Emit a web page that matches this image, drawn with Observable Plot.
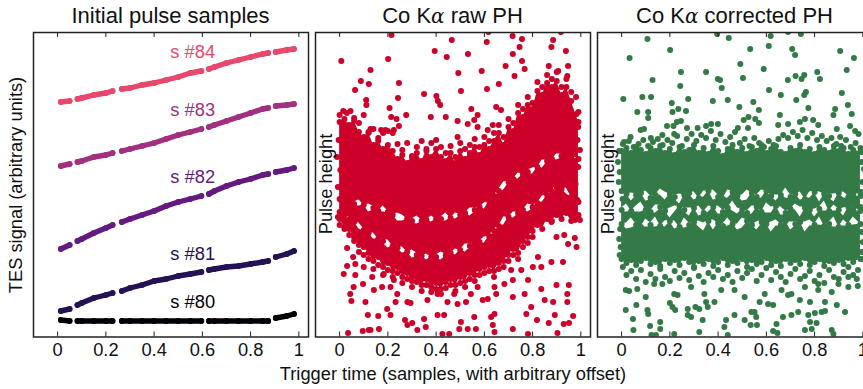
<!DOCTYPE html>
<html><head><meta charset="utf-8">
<script src="https://cdn.jsdelivr.net/npm/d3@7"></script>
<script src="https://cdn.jsdelivr.net/npm/@observablehq/plot@0.6"></script>
<style>
html,body{margin:0;padding:0;background:#fff;width:863px;height:389px;overflow:hidden;font-family:"Liberation Sans",Arial,sans-serif}
.p{position:absolute;top:0}
.t{position:absolute;top:3px;font-size:22px;line-height:26px;text-align:center;color:#111;white-space:nowrap}
.t i{font-family:"DejaVu Serif",serif;font-size:20px}
</style></head><body>
<div id="root"></div>
<script>
const xTicks=[0,.2,.4,.6,.8,1];
const sampleNames=["s #80","s #81","s #82","s #83","s #84"];
const sampleColors=["#000004","#251255","#641a80","#a3307e","#e8486c"];
const sampleLabelY=[35,83,160,227,285];
const sampleX=[.013,.05,.06,.082,.1,.15,.2,.228,.24,.266,.3,.35,.4,.45,.5,.55,.596,.61,.627,.65,.7,.75,.8,.85,.873,.89,.904,.95,.98];
const s84=[235,236,null,238,239,242,244,246,null,248,249,252,254,257,260,264,266,null,268,270,274,277,280,283,284,null,285,287,288];
const s83=[171,173,null,175,176,180,182,184,null,186,188,191,194,198,202,205,208,null,210,212,216,220,224,228,229,null,231,232,233];
const s82=[88,92,null,96,98,104,109,112,null,115,118,122,126,131,135,138,141,null,143,146,151,155,158,162,163,null,165,167,169];
const s81=[26,28,null,32,34,39,42,44,null,46,49,52,56,58,61,63,65,null,67,68,70,71,73,75,76,null,80,83,86];
const s80=[17,16,null,16,16,16,16,16,null,16,16,16,16,16,16,16,16,null,16,16,16,16,16,16,16,null,19,21,23];

const knotX=[0,.02,.04,.06,.08,.1,.12,.14,.16,.18,.2,.22,.24,.26,.28,.3,.32,.34,.36,.38,.4,.42,.44,.46,.48,.5,.52,.54,.56,.58,.6,.62,.64,.66,.68,.7,.72,.74,.76,.78,.8,.82,.84,.86,.88,.9,.92,.94,.96,.99];
const rawTop=[215,218,212,216,205,200,204,192,196,188,192,186,178,182,174,180,184,176,186,180,188,180,176,184,174,186,178,184,190,182,192,188,196,204,192,210,206,224,220,232,228,246,242,254,250,256,242,250,236,215];
const rawBottom=[118,110,108,100,92,90,84,76,80,70,74,66,70,60,64,56,60,52,58,50,54,48,55,58,52,60,56,64,62,68,70,72,66,74,76,82,88,84,96,100,106,112,108,118,116,122,118,124,116,122];
const rawSeam1=[138,138,134,133,134,132,129,129,126,128,125,122,120,119,118,116,117,116,117,118,118,118,120,119,121,122,124,125,127,130,131,136,141,146,151,155,158,161,163,165,166,170,173,176,178,180,181,180,180,178];
const rawOpen1=[0,1,0,2,3,0,4,2,0,3,1,0,4,3,0,2,4,1,0,3,0,2,4,0,3,1,0,4,2,0,3,0,0,2,4,1,0,3,0,2,3,0,4,1,0,3,2,0,1,0];
const rawSeam2=[125,122,118,115,111,107,104,101,98,96,93,91,89,87,85,83,82,81,80,80,80,81,82,84,85,87,89,91,93,95,97,101,106,111,116,120,122,124,127,129,130,134,138,142,146,150,148,146,140,135];
const rawOpen2=[0,0,2,0,3,1,0,3,0,2,4,0,1,3,0,4,2,0,3,0,2,4,1,0,3,0,4,2,0,1,3,0,2,0,4,0,3,1,0,4,2,0,3,0,1,2,0,3,0,0];

const rawTopX=[0,.015,.03,.045,.06,.08,.1,.12,.14,.16,.18,.2,.22,.24,.26,.28,.3,.32,.34,.36,.38,.4,.42,.44,.46,.48,.5,.52,.54,.56,.58,.6,.62,.64,.66,.68,.7,.72,.74,.76,.78,.8,.82,.84,.86,.88,.9,.92,.94,.96,.98,.99];
const rawTopY=[222,226,224,226,219,214,222,205,208,199,204,206,204,193,187,194,181,190,196,188,194,197,190,184,191,180,194,188,192,198,190,200,196,204,212,200,218,214,232,228,240,234,255,250,262,258,265,250,258,245,240,225];
const rawBottomX=[.02,.04,.06,.08,.1,.12,.14,.16,.18,.2,.22,.24,.26,.28,.3,.32,.34,.36,.38,.4,.42,.44,.46,.48,.5,.52,.54,.56,.58,.6,.62,.64,.66,.68,.7,.72,.74,.76,.78,.8];
const rawBottomY=[108,102,96,85,82,78,68,72,62,67,60,64,54,58,50,55,46,52,45,48,43,49,52,46,54,50,58,56,62,64,66,60,68,70,76,82,78,90,94,100];
const rawSides=[[-.004,197],[-.011,180],[.003,167],[-.007,150],[.006,137],[-.007,120],[0,112],[.996,187],[.986,197],[.989,210],[.982,223],[.989,170],[.978,153],[.985,137],[.989,120],[.975,117],[.996,117]];
const rawHigh=[[.215,302],[.617,305],[.465,297],[.61,295],[.717,301],[.756,298],[.917,305],[.885,297],[.878,290],[.938,286],[.746,290],[.718,283],[.756,276],[.394,286],[.444,280],[.532,283],[.201,278],[.007,276],[.128,267],[.492,264],[.589,266],[.688,271],[.725,261],[.767,268],[.867,271],[.906,266],[.947,271],[.944,261],[.246,254],[.088,256],[.121,253],[.064,247],[.66,253],[.611,248],[.503,246],[.35,243],[.401,241],[.242,239],[.407,236],[.417,232],[.11,237],[.111,232],[.207,229],[.546,228],[.572,222],[.276,222],[.214,220],[.236,218],[.378,220],[.44,220],[.489,216],[.558,217],[.531,213],[.649,230],[.669,227],[.246,211],[.225,207],[.172,207],[.19,207],[.128,208],[.489,200],[.572,210],[.635,212],[.614,207]];
const rawLow=[[.035,4],[.096,6],[.121,7],[.163,8],[.128,7],[.271,17],[.281,12],[.301,14],[.322,7],[.35,18],[.357,10],[.406,22],[.426,3],[.454,3],[.503,15],[.496,8],[.531,8],[.558,20],[.565,8],[.628,20],[.635,12],[.642,5],[.718,8],[.781,3],[.774,23],[.818,17],[.794,30],[.867,14],[.892,22],[.929,13],[.968,21],[.903,4],[.951,14],[.944,35],[.944,43],[.95,52],[.899,52],[.85,37],[.885,35],[.836,48],[.781,57],[.822,80],[.836,70],[.878,75],[.926,75],[.975,99],[.982,90],[.947,93],[.931,102],[.878,115],[.899,100],[.031,89],[.056,80],[.031,71],[.065,73],[.017,63],[.065,62],[.058,50],[.097,53],[.044,43],[.049,36],[.107,35],[.117,22],[.16,21],[.197,28],[.211,22],[.232,35],[.281,35],[.294,34],[.447,35],[.489,33],[.524,35],[.593,37],[.642,23],[.649,43],[.614,38],[.718,40],[.767,43],[.711,67],[.753,67],[.801,70],[.433,22],[.406,43],[.364,37],[.475,43],[.544,43],[.572,50],[.642,50],[.683,53],[.718,57],[.239,43],[.142,47],[.176,50],[.211,50],[.1,70],[.135,60],[.183,63],[.225,57]];

const corrTop=[186,189,184,190,187,183,189,186,191,184,188,182,190,185,187,192,184,189,183,191,186,181,188,192,185,189,183,190,186,192,184,188,191,185,183,189,186,192,185,188,183,190,187,184,191,186,189,183,187,185];
const corrBottom=[78,74,77,72,76,79,73,75,71,78,74,77,72,79,75,70,76,73,78,71,75,79,72,76,74,78,70,77,73,75,79,72,76,71,78,74,77,73,79,72,75,78,71,76,74,77,73,79,75,78];
const corrSeam1=[141,143,140,142,144,141,139,142,145,141,143,140,138,142,144,141,139,143,146,142,140,138,143,145,141,139,142,144,140,143,146,141,139,142,144,140,143,141,138,142,145,140,143,141,139,144,142,140,143,141];
const corrSeam2=[127,129,126,128,130,127,125,128,130,126,124,128,131,127,125,129,126,124,128,130,127,125,129,131,126,128,124,127,130,125,129,127,131,126,124,128,130,125,129,127,124,128,131,126,129,127,125,130,128,126];
const corrSeam3=[113,111,114,112,110,114,112,115,111,113,116,112,110,114,112,115,113,110,116,112,114,111,115,113,110,114,116,112,111,115,113,110,114,112,116,111,113,115,110,114,112,116,111,113,115,110,114,112,116,113];
const corrOpen1=[3,0,4,1,0,5,2,0,3,4,0,2,5,0,1,4,0,3,0,5,2,0,4,1,0,3,5,0,2,4,0,1,3,0,5,2,0,4,0,3,1,5,0,2,4,0,3,1,0,2];
const corrOpen2=[2,4,0,3,5,0,1,4,2,0,5,3,0,2,4,0,5,1,3,0,4,2,0,5,3,0,2,4,1,0,5,3,0,4,2,0,3,5,1,0,4,2,5,0,3,1,4,0,2,0];
const corrOpen3=[0,3,5,1,0,4,2,5,0,3,1,4,0,5,2,0,3,4,1,5,0,2,4,0,3,5,1,0,4,2,0,5,3,1,0,4,2,0,5,3,1,4,0,2,5,0,3,1,4,0];
const corrTopX=[.005,.03,.05,.07,.09,.11,.13,.15,.17,.19,.21,.23,.25,.27,.29,.31,.33,.35,.37,.39,.41,.43,.45,.47,.49,.51,.53,.55,.57,.59,.61,.63,.65,.67,.69,.71,.73,.75,.77,.79,.81,.83,.85,.87,.89,.91,.93,.95,.97,.99];
const corrTopY=[193,196,190,193,197,191,195,198,192,197,194,201,191,198,203,196,202,199,206,197,203,195,200,205,194,198,191,199,194,190,196,192,198,202,199,205,201,207,199,204,197,201,196,199,193,191,197,190,194,189];
const corrBottomX=[.005,.02,.04,.06,.08,.1,.12,.14,.16,.18,.2,.22,.24,.26,.28,.3,.32,.34,.36,.38,.4,.42,.44,.46,.48,.5,.52,.54,.56,.58,.6,.62,.64,.66,.68,.7,.72,.74,.76,.78,.8,.82,.84,.86,.88,.9,.92,.94,.96,.98];
const corrBottomY=[70,62,66,58,67,55,63,58,68,60,56,66,59,64,57,69,61,55,64,60,67,58,62,55,66,59,64,68,56,62,69,57,65,60,55,63,68,58,61,66,56,62,54,67,60,58,65,70,62,67];
const corrSides=[[-.01,186],[-.015,175],[-.008,165],[-.012,155],[0,146],[.004,138],[-.006,108],[-.01,98],[-.004,90],[-.008,82],[1,185],[.995,175],[1.005,168],[.998,155],[.992,145],[.99,130],[.996,105],[1,95],[.995,85],[1,78]];
const corrHigh=[[.107,298],[.396,303],[.444,299],[.618,301],[.61,291],[.743,303],[.69,305],[.533,288],[.201,287],[.707,288],[.719,282],[.906,286],[.963,279],[.033,279],[.492,273],[.246,265],[.35,265],[.128,257],[.399,258],[.408,257],[.503,259],[.589,268],[.689,257],[.721,261],[.757,262],[.746,258],[.811,265],[.822,258],[.933,267],[.243,251],[.415,249],[.611,247],[.66,242],[.764,245],[.757,242],[.913,244],[.007,238],[.086,240],[.122,240],[.276,238],[.208,234],[.378,236],[.44,237],[.546,235],[.724,237],[.938,232],[.488,230],[.569,227],[.211,225],[.235,228],[.267,226],[.065,225],[.11,225],[.11,219],[.774,229],[.885,228],[.878,222],[.954,223],[.656,222],[.526,220],[.506,217],[.554,218],[.569,214],[.246,216],[.229,215],[.215,211],[.188,211],[.093,208],[.079,207],[.371,213],[.399,213],[.35,211],[.315,209],[.271,209],[.482,209],[.524,209],[.649,212],[.69,213],[.739,215],[.76,218],[.794,217],[.815,212],[.947,211],[.982,203],[.968,206],[.892,208],[.906,200],[.037,200],[.01,195],[.121,199],[.169,202],[.218,203]];
const corrLow=[[.017,27],[.047,18],[.049,7],[.061,32],[.1,40],[.107,27],[.11,23],[.118,11],[.16,15],[.16,8],[.124,2],[.142,2],[.218,3],[.2,34],[.211,30],[.222,27],[.274,28],[.274,22],[.288,20],[.306,30],[.322,28],[.336,17],[.322,5],[.35,35],[.357,30],[.385,35],[.433,17],[.426,10],[.44,2],[.468,22],[.51,17],[.538,25],[.551,25],[.558,20],[.535,12],[.561,12],[.572,35],[.607,33],[.628,32],[.642,13],[.669,20],[.628,6],[.646,4],[.704,22],[.732,25],[.774,22],[.781,15],[.808,14],[.801,24],[.829,25],[.843,26],[.788,8],[.76,7],[.871,7],[.878,3],[.926,25],[.892,32],[.843,35],[.781,35],[.704,43],[.739,37],[.017,47],[.031,46],[.065,48],[.135,53],[.169,53],[.218,43],[.232,42],[.288,50],[.343,43],[.413,47],[.468,47],[.51,40],[.593,43],[.663,47],[.69,42],[.76,50],[.815,47],[.871,45],[.94,50],[.979,51],[.975,58],[.899,53],[.94,60],[.815,53]];

const RED="#cd0029", GREEN="#337a47", INK="#222", TXT="#111";
const FS=18.3;
const zip=(xs,ys)=>xs.map((x,i)=>[x,ys[i]]);
const row=(rows,fill)=>Plot.dot(rows,{x:d=>d[0],y:d=>d[1],r:3,fill,clip:true});
const band=(lo,hi,fill)=>Plot.areaY(knotX.map((x,i)=>({x,lo:lo[i],hi:hi[i]})),{x:"x",y1:"lo",y2:"hi",fill,clip:true});
const plus=(a,b)=>a.map((v,i)=>v+b[i]);
const minus=(a,b)=>a.map((v,i)=>v-b[i]);
const seamDots=(seam,open,fill)=>row(zip(knotX,seam).filter((d,i)=>open[i]<=2),fill);

function panel(left,marginLeft,width,marks){
  const wrap=document.createElement("div");wrap.className="p";wrap.style.left=left+"px";
  wrap.append(Plot.plot({
    width,height:389,marginLeft,marginRight:3,marginTop:32,marginBottom:52.5,
    x:{domain:[-.1,1.04],axis:null},y:{domain:[0,304.5],axis:null},
    style:{background:"none",fontFamily:"Liberation Sans",fontSize:FS+"px",color:TXT,overflow:"visible",maxWidth:"none"},
    marks:[
      ...marks,
      Plot.axisX({anchor:"bottom",ticks:xTicks,tickSize:0,tickPadding:6,tickFormat:d=>String(d),label:null,fontSize:FS}),
      Plot.ruleX(xTicks,{x:d=>d,y1:0,y2:5,stroke:INK,strokeWidth:1}),
      Plot.ruleX(xTicks,{x:d=>d,y1:299.5,y2:304.5,stroke:INK,strokeWidth:1}),
      Plot.frame({stroke:INK,strokeWidth:1.5})
    ]}));
  document.getElementById("root").append(wrap);
}
function title(center,html){const d=document.createElement("div");d.className="t";d.innerHTML=html;d.style.left=(center-140)+"px";d.style.width="280px";document.getElementById("root").append(d);}

const sampleRows=[s80,s81,s82,s83,s84];
const sampleMarks=sampleRows.flatMap((ys,k)=>{
  const pts=sampleX.map((x,i)=>({x,y:ys[i]}));
  return [Plot.line(pts,{x:"x",y:"y",stroke:sampleColors[k],strokeWidth:5.4,strokeLinecap:"round"}),
          Plot.dot(pts.filter(d=>d.y!=null),{x:"x",y:"y",r:2.9,fill:sampleColors[k]}),
          Plot.text([sampleNames[k]],{x:.56,y:sampleLabelY[k],text:d=>d,fill:sampleColors[k],fontSize:FS})];
});
panel(0,33,311,[...sampleMarks,
  Plot.text(["TES signal (arbitrary units)"],{x:-.17,y:152,rotate:-90,text:d=>d,fontSize:FS,fill:TXT})]);

const phLabel=Plot.text(["Pulse height"],{x:-.055,y:153,rotate:-90,text:d=>d,fontSize:FS,fill:TXT});
panel(312,3,281,[
  band(plus(rawSeam1,rawOpen1),rawTop,RED),
  band(plus(rawSeam2,rawOpen2),minus(rawSeam1,rawOpen1),RED),
  band(rawBottom,minus(rawSeam2,rawOpen2),RED),
  seamDots(rawSeam1,rawOpen1,RED),seamDots(rawSeam2,rawOpen2,RED),
  row(zip(knotX,rawTop),RED),row(zip(knotX,rawBottom),RED),
  row(zip(rawTopX,rawTopY),RED),row(zip(rawBottomX,rawBottomY),RED),
  row(rawSides,RED),row(rawHigh,RED),row(rawLow,RED),
  phLabel,
  Plot.text(["Trigger time (samples, with arbitrary offset)"],{frameAnchor:"bottom",lineAnchor:"middle",dy:37,text:d=>d,fontSize:FS,fill:TXT})
]);
panel(594,3,281,[
  band(plus(corrSeam1,corrOpen1),corrTop,GREEN),
  band(plus(corrSeam2,corrOpen2),minus(corrSeam1,corrOpen1),GREEN),
  band(plus(corrSeam3,corrOpen3),minus(corrSeam2,corrOpen2),GREEN),
  band(corrBottom,minus(corrSeam3,corrOpen3),GREEN),
  seamDots(corrSeam1,corrOpen1,GREEN),seamDots(corrSeam2,corrOpen2,GREEN),seamDots(corrSeam3,corrOpen3,GREEN),
  row(zip(knotX,corrTop),GREEN),row(zip(knotX,corrBottom),GREEN),
  row(zip(corrTopX,corrTopY),GREEN),row(zip(corrBottomX,corrBottomY),GREEN),
  row(corrSides,GREEN),row(corrHigh,GREEN),row(corrLow,GREEN),
  phLabel
]);
title(170.5,'Initial pulse samples');
title(452.5,'Co K<i>α</i> raw PH');
title(734.5,'Co K<i>α</i> corrected PH');
</script>
</body></html>
